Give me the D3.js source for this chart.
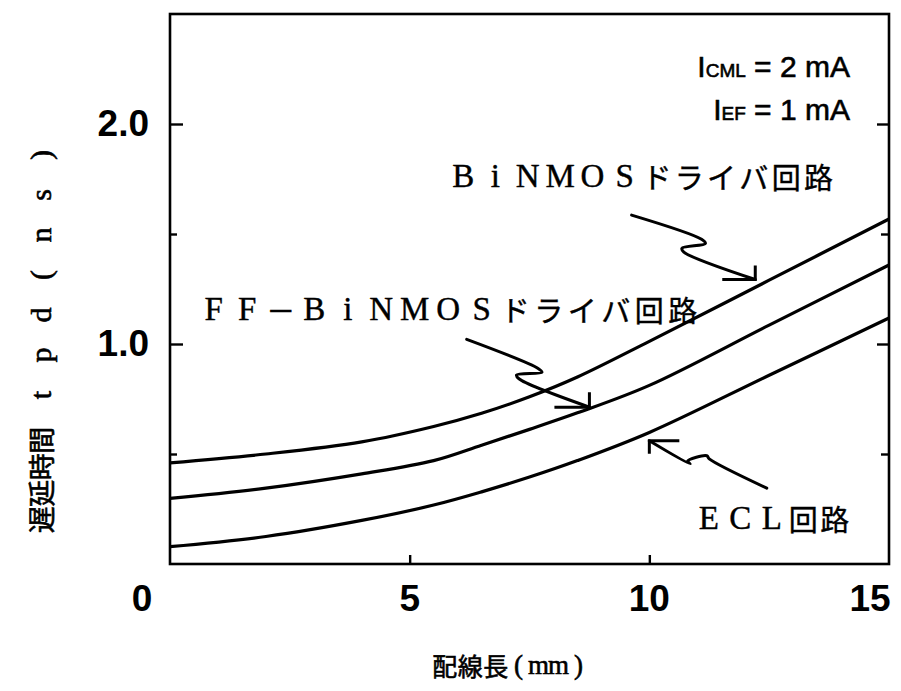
<!DOCTYPE html>
<html>
<head>
<meta charset="utf-8">
<script src="https://cdn.jsdelivr.net/npm/d3@7/dist/d3.min.js"></script>
<style>
  body { margin: 0; background: #fff; }
  svg { display: block; }
</style>
</head>
<body>
<svg id="chart" width="901" height="691"></svg>
<script>
// Wiring length (mm) and propagation delay tpd (ns) for each driver circuit
const wireLength    = [0, 2, 4, 5.5, 6.5, 7.5, 8.5, 10, 12.5, 15];
const binmosDelay   = [0.46, 0.50, 0.555, 0.625, 0.685, 0.76, 0.85, 1.012, 1.29, 1.568];
const ffBinmosDelay = [0.298, 0.345, 0.41, 0.47, 0.54, 0.612, 0.687, 0.812, 1.086, 1.359];
const eclDelay      = [0.079, 0.125, 0.198, 0.268, 0.328, 0.395, 0.47, 0.598, 0.858, 1.118];

const xTickValues = [0, 5, 10, 15];
const xTickLabels = ["0", "5", "10", "15"];
const yMajorTicks = [1.0, 2.0];
const yMinorTicks = [0.5, 1.5];

const seriesLabels = ["ＢｉＮＭＯＳドライバ回路", "ＦＦ－ＢｉＮＭＯＳドライバ回路", "ＥＣＬ回路"];
const xAxisTitle = "配線長（ｍｍ）";
const yAxisTitle = "遅延時間 ｔｐｄ（ｎｓ）";

// Callout leaders (wire length, delay) from the label towards the curve; last point is the tip
const binmosLeader = [[9.63, 1.586], [11.09, 1.476], [11.17, 1.457], [10.68, 1.435], [10.72, 1.418], [12.21, 1.293]];
const ffLeader     = [[6.19, 1.021], [7.68, 0.889], [7.76, 0.872], [7.23, 0.859], [7.28, 0.842], [8.75, 0.713]];
const eclLeader    = [[12.45, 0.345], [11.25, 0.478], [11.2, 0.492], [10.8, 0.468], [10.85, 0.455], [10.0, 0.56]];

const svg = d3.select("#chart");
const W = 901, H = 691;
const margin = { left: 170, right: 12, top: 14, bottom: 127 };

const x = d3.scaleLinear().domain([0, 15]).range([margin.left, W - margin.right]);
const y = d3.scaleLinear().domain([0, 2.5]).range([H - margin.bottom, margin.top]);

const sans = "'Liberation Sans', Arial, Helvetica, sans-serif";
const serif = "'Liberation Serif', 'DejaVu Serif', serif";
const cjk = "'Noto Sans CJK JP', 'Noto Sans', sans-serif";

// Frame
svg.append("rect")
  .attr("x", x(0)).attr("y", y(2.5))
  .attr("width", x(15) - x(0)).attr("height", y(0) - y(2.5))
  .attr("fill", "none").attr("stroke", "#000").attr("stroke-width", 2.6);

// Inward ticks on the frame
function tickAxis(axisFn, pos, values, size, translate) {
  const g = svg.append("g").attr("transform", translate)
    .call(axisFn(pos).tickValues(values).tickSize(size).tickFormat(""));
  g.select(".domain").remove();
  g.selectAll(".tick line").attr("stroke", "#000").attr("stroke-width", 2.4);
  return g;
}
tickAxis(d3.axisLeft, y, yMajorTicks, -13, `translate(${x(0)},0)`);
tickAxis(d3.axisLeft, y, yMinorTicks, -7, `translate(${x(0)},0)`);
tickAxis(d3.axisRight, y, yMajorTicks, -12, `translate(${x(15)},0)`);
tickAxis(d3.axisRight, y, yMinorTicks, -8, `translate(${x(15)},0)`);
tickAxis(d3.axisBottom, x, [5, 10], -9, `translate(0,${y(0)})`);

// Y tick labels
const yLab = svg.append("g")
  .attr("transform", `translate(${x(0)},0)`)
  .call(d3.axisLeft(y).tickValues(yMajorTicks).tickSize(0).tickPadding(21).tickFormat(d3.format(".1f")));
yLab.select(".domain").remove();
yLab.selectAll("text")
  .attr("font-family", sans).attr("font-size", 37).attr("font-weight", "bold").attr("fill", "#000");

// X tick labels (end labels sit a little off the frame corners)
const xNudge = { 0: -28, 15: -19 };
svg.append("g").selectAll("text")
  .data(xTickValues)
  .join("text")
  .attr("x", (d) => x(d) + (xNudge[d] || 0))
  .attr("y", y(0) + 47)
  .attr("text-anchor", "middle")
  .attr("font-family", sans).attr("font-size", 37).attr("font-weight", "bold")
  .text((d, i) => xTickLabels[i]);

// Curves
const line = d3.line()
  .x((d) => x(d[0]))
  .y((d) => y(d[1]))
  .curve(d3.curveCatmullRom.alpha(0.5));

[binmosDelay, ffBinmosDelay, eclDelay].forEach((vals) => {
  svg.append("path")
    .datum(wireLength.map((w, i) => [w, vals[i]]))
    .attr("d", line)
    .attr("fill", "none").attr("stroke", "#000").attr("stroke-width", 3.2)
    .attr("stroke-linejoin", "round");
});

// Callout leaders with a corner-shaped arrow head at the tip
const leaderLine = d3.line().x((d) => x(d[0])).y((d) => y(d[1])).curve(d3.curveCatmullRom.alpha(0.5));
function leader(points, headV, headH) {
  svg.append("path")
    .datum(points)
    .attr("d", leaderLine)
    .attr("fill", "none").attr("stroke", "#000").attr("stroke-width", 3)
    .attr("stroke-linecap", "round").attr("stroke-linejoin", "round");
  const tip = points[points.length - 1];
  const tx = x(tip[0]), ty = y(tip[1]);
  svg.append("path")
    .attr("d", `M${tx},${ty + headV}L${tx},${ty}L${tx + headH},${ty}`)
    .attr("fill", "none").attr("stroke", "#000").attr("stroke-width", 3);
}
leader(binmosLeader, -14, -33);
leader(ffLeader, -15, -35);
leader(eclLeader, 13, 30);

// Text laid out on a character pitch; full-width Latin letters are set in a serif face
function pitchedText(parent, str, x0, yc, opts) {
  const { cjkPitch, latinPitch, gap = 0, size, latinSize, weight = "normal", thicken = 0 } = opts;
  const t = parent.append("text")
    .attr("y", yc)
    .attr("dominant-baseline", "central")
    .attr("font-size", size)
    .attr("font-weight", weight)
    .attr("fill", "#000")
    .attr("stroke", thicken ? "#000" : "none")
    .attr("stroke-width", thicken);
  let cursor = x0;
  Array.from(str).forEach((ch) => {
    if (ch === " ") { cursor += gap; return; }
    const code = ch.charCodeAt(0);
    const isWideLatin = code >= 0xFF01 && code <= 0xFF5E && ch !== "－";
    const pitch = isWideLatin ? latinPitch : cjkPitch;
    const s = t.append("tspan")
      .attr("x", cursor + pitch / 2)
      .attr("text-anchor", "middle");
    if (isWideLatin) {
      s.attr("font-family", serif).attr("font-size", latinSize).text(String.fromCharCode(code - 0xFEE0));
    } else {
      s.attr("font-family", cjk).text(ch);
    }
    cursor += pitch;
  });
  return t;
}

const labelStyle = { cjkPitch: 32.3, latinPitch: 32.3, size: 29, latinSize: 33, thicken: 0.4 };
pitchedText(svg, seriesLabels[0], 447, 176, labelStyle);
pitchedText(svg, seriesLabels[1], 197, 309, { ...labelStyle, cjkPitch: 33.5, latinPitch: 33.5 });
pitchedText(svg, seriesLabels[2], 693, 518, { ...labelStyle, cjkPitch: 31.5, latinPitch: 31.5 });

// Operating current annotations
function currentLabel(yb, sub, rest) {
  const t = svg.append("text")
    .attr("x", 850).attr("y", yb)
    .attr("text-anchor", "end")
    .attr("font-family", sans).attr("font-size", 30)
    .attr("fill", "#000").attr("stroke", "#000").attr("stroke-width", 0.6);
  t.append("tspan").text("I");
  t.append("tspan").attr("font-size", 19).text(sub);
  t.append("tspan").text(rest);
}
currentLabel(77, "CML", " = 2 mA");
currentLabel(120, "EF", " = 1 mA");

// Axis titles
pitchedText(svg, xAxisTitle, 432, 665, { cjkPitch: 25.5, latinPitch: 20, size: 25, latinSize: 27, thicken: 0.6 });
const yTitle = svg.append("g").attr("transform", "translate(40,0) rotate(-90)");
pitchedText(yTitle, yAxisTitle, -533, 0, { cjkPitch: 26.5, latinPitch: 40, gap: 12, size: 27, latinSize: 30, thicken: 0.6 });
</script>
</body>
</html>
